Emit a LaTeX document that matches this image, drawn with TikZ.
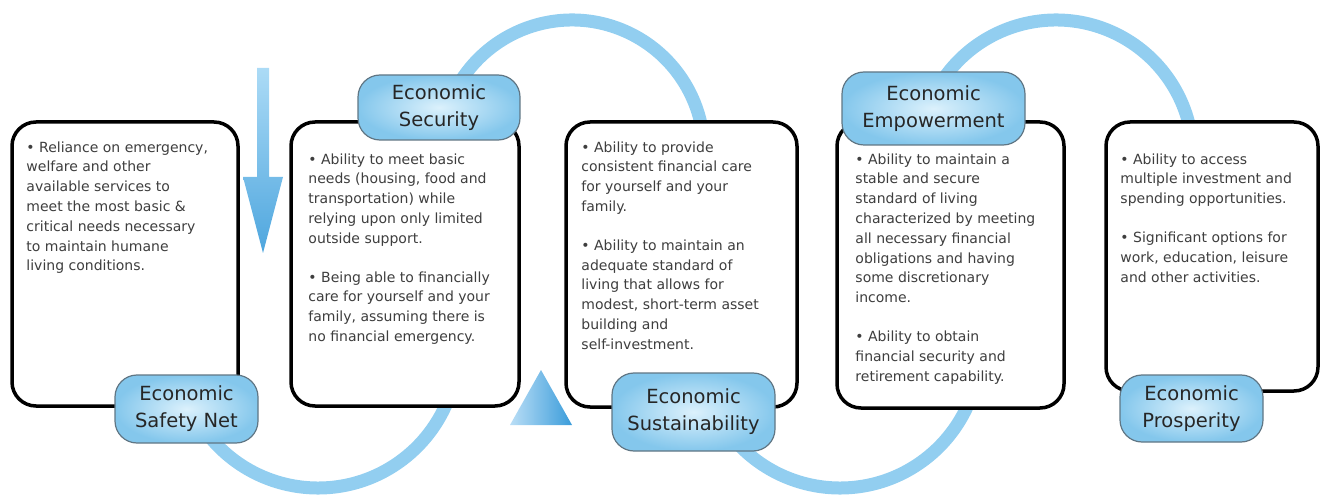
\documentclass[tikz,border=0pt]{standalone}
\usepackage{fontspec}
\setmainfont{DejaVu Sans}
\usepackage{tikz}
\usetikzlibrary{positioning}
\usepackage{xcolor}
\definecolor{arcblue}{RGB}{146,206,240}
\definecolor{lblfill}{RGB}{132,199,236}
\definecolor{lblcentre}{RGB}{220,241,252}
\definecolor{lblborder}{RGB}{96,118,132}
\definecolor{bodygrey}{RGB}{62,62,62}
\definecolor{arrowlight}{RGB}{172,219,246}
\definecolor{arrowdark}{RGB}{78,166,222}
\definecolor{trilight}{RGB}{186,222,246}
\definecolor{tridark}{RGB}{58,156,218}
\tikzstyle{stagebox} = [draw=black, fill=white, line width=3.5pt, rectangle, rounded corners=24pt]
\tikzstyle{stagelabel} = [draw=lblborder, line width=1.2pt, rectangle, rounded corners=22pt, inner color=lblcentre, outer color=lblfill, text=black!85, font=\fontsize{19.5}{27}\selectfont, align=center, inner sep=0pt]
\tikzstyle{bodytext} = [text=bodygrey, font=\fontsize{14}{19.8}\selectfont, align=left, inner sep=0pt, anchor=north west]
\tikzstyle{coil} = [arcblue, line width=13pt]

\begin{document}
\begin{tikzpicture}[x=1pt,y=1pt]
\useasboundingbox (0,0) rectangle (1323,496);
% the coil running behind the boxes
\draw[coil] (318,148) ++(215:140) arc[start angle=215, end angle=340, radius=140];
\draw[coil] (572,344) ++(155:132) arc[start angle=155, end angle=5, radius=132];
\draw[coil] (840,148) ++(215:140) arc[start angle=215, end angle=340, radius=140];
\draw[coil] (1056,339) ++(150:137) arc[start angle=150, end angle=5, radius=137];

% boxes
\node[stagebox, minimum width=226pt, minimum height=284pt] (box1) at (125,232) {};
\node[stagebox, minimum width=228pt, minimum height=284pt] (box2) at (405,232) {};
\node[stagebox, minimum width=231pt, minimum height=285pt] (box3) at (681.5,231.5) {};
\node[stagebox, minimum width=227pt, minimum height=286pt] (box4) at (950.5,231) {};
\node[stagebox, minimum width=212pt, minimum height=269pt] (box5) at (1212,239.5) {};

\node[bodytext, below right=21pt and 16pt of box1.north west] (text1) {%
  • Reliance on emergency,\\ welfare and other\\ available services to\\
  meet the most basic \&\\ critical needs necessary\\ to maintain humane\\
  living conditions.};
\node[bodytext, below right=33pt and 19pt of box2.north west] (text2) {%
  • Ability to meet basic\\ needs (housing, food and\\ transportation) while\\
  relying upon only limited\\ outside support.\\[19pt]
  • Being able to financially\\ care for yourself and your\\
  family, assuming there is\\ no financial emergency.};
\node[bodytext, below right=21pt and 17pt of box3.north west] (text3) {%
  • Ability to provide\\ consistent financial care\\ for yourself and your\\
  family.\\[19pt]
  • Ability to maintain an\\ adequate standard of\\ living that allows for\\
  modest, short-term asset\\ building and\\ self-investment.};
\node[bodytext, below right=33pt and 20pt of box4.north west] (text4) {%
  • Ability to maintain a\\ stable and secure\\ standard of living\\
  characterized by meeting\\ all necessary financial\\ obligations and having\\
  some discretionary\\ income.\\[19pt]
  • Ability to obtain\\ financial security and\\ retirement capability.};
\node[bodytext, below right=33pt and 16pt of box5.north west] (text5) {%
  • Ability to access\\ multiple investment and\\ spending opportunities.\\[19pt]
  • Significant options for\\ work, education, leisure\\ and other activities.};

% stage labels
\node[stagelabel, minimum width=143pt, minimum height=68pt] (netlabel) at (186.5,87) {Economic\\Safety Net};
\node[stagelabel, minimum width=162pt, minimum height=65pt] (securelabel) at (439,388.5) {Economic\\Security};
\node[stagelabel, minimum width=163pt, minimum height=78pt] (sustainlabel) at (693.5,84) {Economic\\Sustainability};
\node[stagelabel, minimum width=183pt, minimum height=73pt] (empowerlabel) at (933.5,387.5) {Economic\\Empowerment};
\node[stagelabel, minimum width=143pt, minimum height=67pt] (prosperlabel) at (1191.5,87.5) {Economic\\Prosperity};

% down arrow and triangle
\shade[top color=arrowlight, bottom color=arrowdark]
  (257,428) -- (269,428) -- (269,319) -- (283,319) -- (263,243) -- (243,319) -- (257,319) -- cycle;
\shade[left color=trilight, right color=tridark] (510,71) -- (541,126) -- (572,71) -- cycle;
\end{tikzpicture}
\end{document}
